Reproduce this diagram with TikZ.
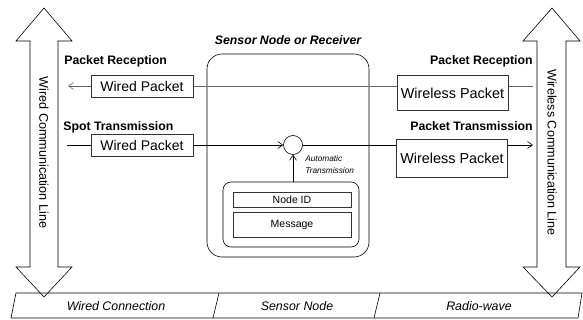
\documentclass[tikz,border=0pt]{standalone}
\usepackage{fontspec}
\setmainfont{Liberation Sans}
\usetikzlibrary{arrows.meta,positioning}
\tikzset{
    tip/.style={-{Straight Barb[length=5pt,width=7pt]}},
    wiredbox/.style={draw=black!80,fill=white,minimum width=102pt,minimum height=22pt,inner sep=0pt,font=\fontsize{14}{16}\selectfont},
    wirelessbox/.style={draw=black!80,fill=white,minimum width=111pt,minimum height=35pt,inner sep=0pt,font=\fontsize{14.4}{17}\selectfont},
    flowlabel/.style={font=\bfseries\fontsize{12.3}{14}\selectfont,inner sep=0pt},
    fieldbox/.style={draw=black!80,minimum width=118pt,inner sep=0pt,font=\fontsize{10.5}{12}\selectfont},
    barlabel/.style={font=\itshape\fontsize{12.4}{14}\selectfont},
    lineslabel/.style={rotate=-90,font=\fontsize{12.6}{14}\selectfont}
}
\begin{document}
\begin{tikzpicture}[x=1pt,y=-1pt,line width=0.6pt]
    \useasboundingbox (0,0) rectangle (583,320);
    % Communication lines
    \draw (44,8) -- (72,41) -- (58,41) -- (58,267) -- (72,267) -- (44,297)
        -- (16,267) -- (30,267) -- (30,41) -- (16,41) -- cycle;
    \draw (552,8) -- (580,41) -- (566,41) -- (566,267) -- (580,267) -- (552,297)
        -- (523,267) -- (537,267) -- (537,41) -- (523,41) -- cycle;
    \node[lineslabel] (wiredline) at (44,152.5) {Wired Communication Line};
    \node[lineslabel] (wirelessline) at (552,152.5) {Wireless Communication Line};
    % Bottom bar
    \draw (11,318) -- (16,293) -- (582,293) -- (578,318) -- cycle;
    \foreach \x in {213,374}
        \draw (\x,318) -- (\x+6,293);
    \node[barlabel] (wiredconn) at (116,306) {Wired Connection};
    \node[barlabel] (sensorpart) at (297,306) {Sensor Node};
    \node[barlabel] (radiowave) at (479,306) {Radio-wave};
    % Sensor node
    \node[draw,rounded corners=15pt,minimum width=162pt,minimum height=203pt] (sensor) at (288,155.5) {};
    \node[font=\bfseries\itshape\fontsize{12.3}{14}\selectfont,above=5pt of sensor] (title) {Sensor Node or Receiver};
    \node[draw,rounded corners=8pt,minimum width=136pt,minimum height=65pt] (payload) at (291,214.5) {};
    \node[fieldbox,minimum height=15pt] (nodeid) at (292,199.5) {Node ID};
    \node[fieldbox,minimum height=25pt] (message) at (292,224.5) {Message};
    \node[draw,circle,minimum size=19pt,inner sep=0pt] (auto) at (293,145) {};
    \draw[tip] (payload.north -| auto) -- (auto);
    \node[anchor=west,align=left,inner sep=0pt,font=\itshape\fontsize{8.3}{12}\selectfont] (autolabel) at (305,165) {Automatic\\Transmission};
    % Reception row
    \coordinate (recvR) at (533,86);
    \coordinate (recvL) at (68,86);
    \draw[tip,black!60] (recvR) -- (recvL);
    \node[wirelessbox] (wlrecv) at (452.5,93) {Wireless Packet};
    \node[wiredbox] (wdrecv) at (142,86) {Wired Packet};
    \node[flowlabel,anchor=west] (recvlabelL) at (64,61) {Packet Reception};
    \node[flowlabel,anchor=east] (recvlabelR) at (533,61) {Packet Reception};
    % Transmission row
    \coordinate (sendL) at (67,145);
    \coordinate (sendR) at (533,145);
    \node[wiredbox] (wdsend) at (142,145) {Wired Packet};
    \node[wirelessbox,minimum height=38pt] (wlsend) at (452,158) {Wireless Packet};
    \draw (sendL) -- (wdsend);
    \draw[tip] (wdsend) -- (auto);
    \draw (auto) -- (wlsend.west |- auto);
    \draw[tip] (wlsend.east |- auto) -- (sendR);
    \node[flowlabel,anchor=west] (sendlabelL) at (63,127) {Spot Transmission};
    \node[flowlabel,anchor=east] (sendlabelR) at (533,126) {Packet Transmission};
\end{tikzpicture}
\end{document}
